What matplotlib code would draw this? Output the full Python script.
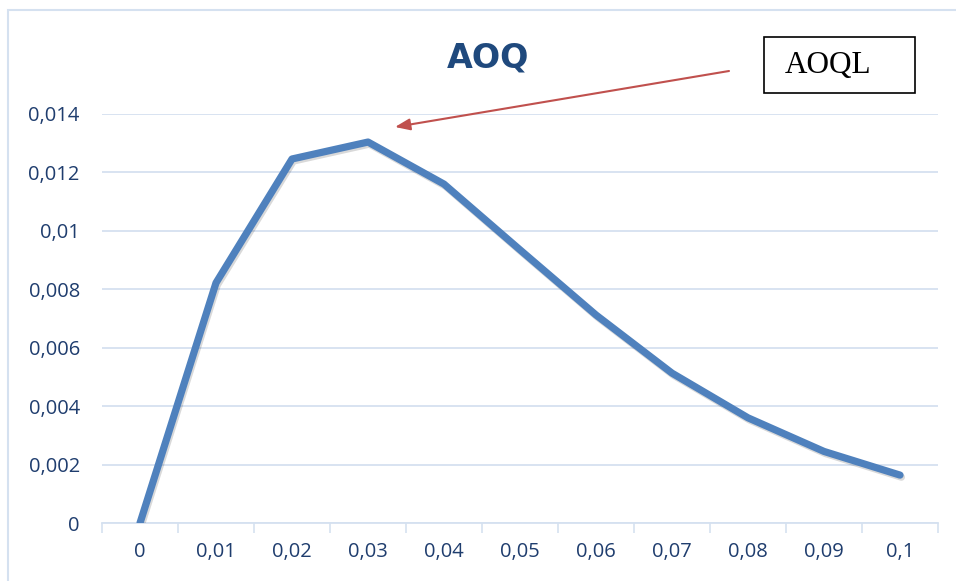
import matplotlib.pyplot as plt
import matplotlib.patheffects as pe
from matplotlib.patches import Rectangle

# AOQ curve against incoming fraction defective
p_labels = ["0", "0,01", "0,02", "0,03", "0,04", "0,05", "0,06", "0,07", "0,08", "0,09", "0,1"]
aoq = [0.0, 0.00822, 0.01246, 0.01304, 0.0116, 0.00935, 0.00712, 0.00513, 0.0036, 0.00245, 0.00164]

y_ticks = [0, 0.002, 0.004, 0.006, 0.008, 0.01, 0.012, 0.014]
y_labels = ["0", "0,002", "0,004", "0,006", "0,008", "0,01", "0,012", "0,014"]

navy = "#1F3D6E"
grid_col = "#D5E1F0"
W, H = 956, 581

fig = plt.figure(figsize=(9.56, 5.81), dpi=100)
ax = fig.add_axes([0.1067, 0.0998, 0.8745, 0.704])

x = list(range(len(aoq)))
ax.plot(x, aoq, color="#4F81BD", linewidth=5.2, solid_joinstyle="round",
        solid_capstyle="round", zorder=3,
        path_effects=[pe.SimpleLineShadow(offset=(1, -1.5), alpha=0.15, shadow_color="black"),
                      pe.Normal()])

ax.set_xlim(-0.5, len(aoq) - 0.5)
ax.set_ylim(0, 0.014)
ax.set_xticks(x)
ax.set_xticklabels(p_labels)
ax.set_xticks([i - 0.5 for i in range(len(aoq) + 1)], minor=True)
ax.set_yticks(y_ticks)
ax.set_yticklabels(y_labels)

for lab in ax.get_xticklabels() + ax.get_yticklabels():
    lab.set_fontfamily("Open Sans")
    lab.set_fontsize(14.5)
    lab.set_color(navy)

ax.tick_params(axis="x", which="major", length=0, pad=14)
ax.tick_params(axis="x", which="minor", length=7, width=1.2, color=grid_col)
ax.tick_params(axis="y", length=0, pad=16)

ax.grid(axis="y", color=grid_col, linewidth=1.3, zorder=0)
for side in ["top", "right", "left"]:
    ax.spines[side].set_visible(False)
ax.spines["bottom"].set_color(grid_col)
ax.spines["bottom"].set_linewidth(1.3)

fig.text(488 / W, 1 - 58 / H, "AOQ", ha="center", va="center", fontsize=24,
         fontweight="bold", color="#1F497D", family="DejaVu Sans")

# label box and arrow pointing at the peak
fig.add_artist(Rectangle((764 / W, 1 - 93 / H), 151 / W, 56 / H, transform=fig.transFigure,
                         facecolor="white", edgecolor="black", linewidth=1.2))
fig.text(828 / W, 1 - 66 / H, "AOQL", ha="center", va="center", fontsize=22.5,
         family="Liberation Serif", color="black")
ax.annotate("", xy=(395, H - 127), xycoords="figure pixels",
            xytext=(729, H - 71), textcoords="figure pixels",
            arrowprops=dict(arrowstyle="-|>,head_length=0.9,head_width=0.35",
                            color="#C0504D", linewidth=1.5, shrinkA=0, shrinkB=0))

# chart frame, running off the right and bottom edges
fig.add_artist(Rectangle((8 / W, -10 / H), 960 / W, 581 / H, transform=fig.transFigure,
                         fill=False, edgecolor=grid_col, linewidth=1.5))

fig.savefig("out.png", dpi=100)
